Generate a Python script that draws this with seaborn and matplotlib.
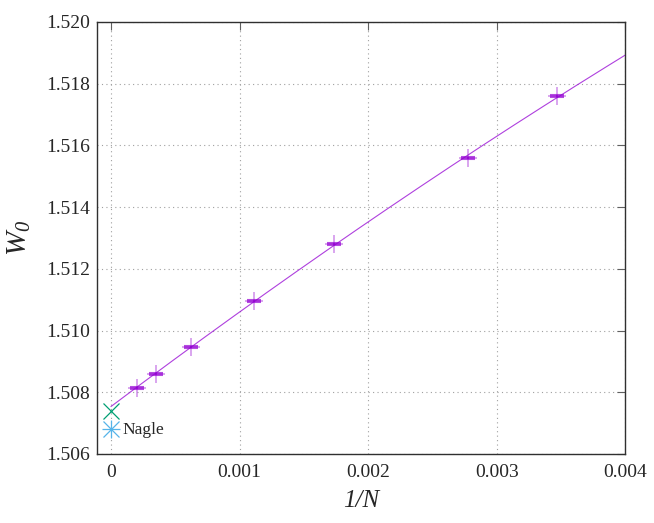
import numpy as np
import pandas as pd
import matplotlib
matplotlib.use("Agg")
import matplotlib.pyplot as plt
import seaborn as sns

# data
inv_n = [0.0002, 0.000347, 0.000625, 0.001111, 0.001736, 0.002778, 0.003472]
w0 = [1.50815, 1.50860, 1.50947, 1.51096, 1.51280, 1.51560, 1.51760]
w0_err = [0.00003, 0.00003, 0.00003, 0.00003, 0.00003, 0.00003, 0.00003]

extrap_x = [0.0]
extrap_w0 = [1.50740]
nagle_x = [0.0]
nagle_w0 = [1.50682]

xticks = [0, 0.001, 0.002, 0.003, 0.004]
xticklabels = ["0", "0.001", "0.002", "0.003", "0.004"]
yticks = [1.506, 1.508, 1.510, 1.512, 1.514, 1.516, 1.518, 1.520]
yticklabels = ["1.506", "1.508", "1.510", "1.512", "1.514", "1.516", "1.518", "1.520"]

df = pd.DataFrame({"inv_n": inv_n, "w0": w0, "err": w0_err})

# quadratic fit of the data, drawn from 0 to 0.004
coef = np.polyfit(df["inv_n"], df["w0"], 2)
fit_x = np.linspace(0, 0.004, 200)
fit = pd.DataFrame({"inv_n": fit_x, "w0": np.polyval(coef, fit_x)})

sns.set_style("white")
plt.rcParams["font.family"] = ["Liberation Serif", "DejaVu Serif"]
plt.rcParams["mathtext.fontset"] = "custom"
plt.rcParams["mathtext.it"] = "Liberation Serif:italic"
plt.rcParams["mathtext.rm"] = "Liberation Serif:italic"
plt.rcParams["mathtext.default"] = "it"

fig = plt.figure(figsize=(6.54, 5.23), dpi=100)
ax = fig.add_axes([0.148, 0.132, 0.808, 0.826])

violet = "#9400d3"

sns.lineplot(data=fit, x="inv_n", y="w0", color=violet, linewidth=0.8,
             alpha=0.75, ax=ax, legend=False)

ax.errorbar(df["inv_n"], df["w0"], yerr=df["err"], fmt="none",
            ecolor=violet, elinewidth=1.5, capsize=5, capthick=1.5, alpha=0.7)
sns.scatterplot(data=df, x="inv_n", y="w0", marker="+", s=160,
                color=violet, linewidth=1.1, alpha=0.45, ax=ax)

ax.plot(extrap_x, extrap_w0, marker="x", markersize=11, color="#009e73",
        markeredgewidth=0.9, linestyle="none")
ax.plot(nagle_x, nagle_w0, marker="+", markersize=13, color="#56b4e9",
        markeredgewidth=0.9, linestyle="none")
ax.plot(nagle_x, nagle_w0, marker="x", markersize=11, color="#56b4e9",
        markeredgewidth=0.9, linestyle="none")
ax.text(0.00009, nagle_w0[0] - 0.00005, "Nagle", fontsize=12.5,
        va="center", ha="left")

ax.set_xlim(-0.00011, 0.004)
ax.set_ylim(1.506, 1.520)
ax.set_xticks(xticks)
ax.set_xticklabels(xticklabels)
ax.set_yticks(yticks)
ax.set_yticklabels(yticklabels)
ax.tick_params(direction="in", length=6, width=0.8, color="#606060",
               top=True, right=True, labelsize=14)
ax.tick_params(axis="y", pad=5)
ax.tick_params(axis="x", pad=7)

ax.grid(True, linestyle=(0, (1, 3)), color="#a0a0a0", linewidth=0.8)
for s in ax.spines.values():
    s.set_color("#303030")
    s.set_linewidth(1.0)

ax.set_xlabel("1/N", fontsize=18, style="italic", labelpad=7)
ax.set_ylabel("$W_0$", fontsize=21, labelpad=9)

fig.savefig("out.png", dpi=100)
